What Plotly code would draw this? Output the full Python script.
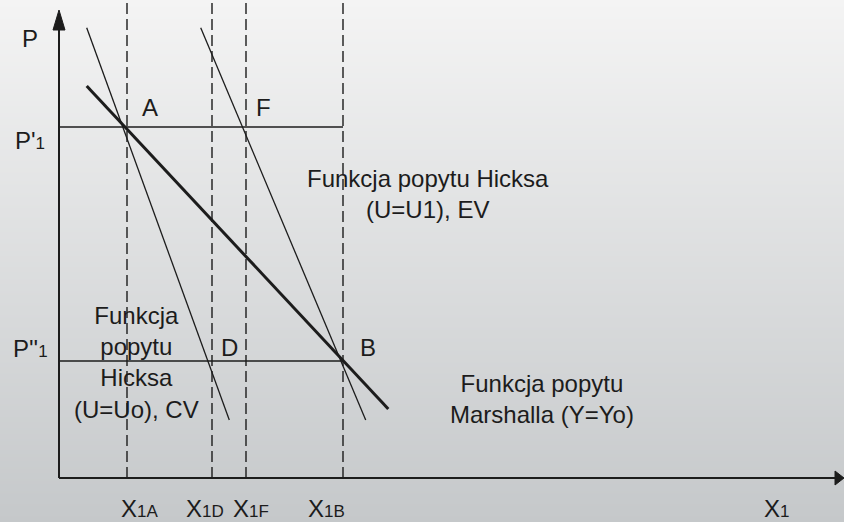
import numpy as np
import plotly.graph_objects as go

# Price levels and quantities (diagram units)
price_levels = {"P'": 35.1, "P''": 11.7}
qty_marks = [6.8, 15.3, 18.7, 28.4]          # X1A, X1D, X1F, X1B
qty_names = ["1A", "1D", "1F", "1B"]

# Demand curves: endpoints (x, p)
marshall_x = [2.77, 32.93]
marshall_p = [39.2, 6.9]
hicks_u0_x = [2.77, 17.03]
hicks_u0_p = [45.03, 5.8]
hicks_u1_x = [14.17, 30.67]
hicks_u1_p = [45.03, 5.8]

X_RANGE = [-5.9, 78.5]
Y_RANGE = [-4.4, 47.8]
INK = "#1c1c1c"
FONT = "Liberation Sans, Arial, sans-serif"
SUB = 17

fig = go.Figure()

# soft vertical gradient backdrop
gy = np.linspace(Y_RANGE[0], Y_RANGE[1], 60)
fig.add_trace(go.Heatmap(
    x=[X_RANGE[0], X_RANGE[1]], y=gy,
    z=[[v, v] for v in gy],
    colorscale=[[0, "rgb(197,200,202)"], [1, "rgb(244,244,244)"]],
    zsmooth="best", showscale=False, hoverinfo="skip"))

def line(x, y, width, dash=None):
    fig.add_trace(go.Scatter(x=x, y=y, mode="lines", hoverinfo="skip",
                             line=dict(color=INK, width=width, dash=dash),
                             showlegend=False))

# dashed quantity guides
for q in qty_marks:
    line([q, q], [0, Y_RANGE[1]], 1.4, "11px,5px")

# price lines
for p in price_levels.values():
    line([0, qty_marks[-1]], [p, p], 1.3)

# demand curves
line(hicks_u0_x, hicks_u0_p, 1.3)
line(hicks_u1_x, hicks_u1_p, 1.3)
line(marshall_x, marshall_p, 3)

# axes with arrow heads
line([0, 0], [0, 45.0], 2)
line([0, 77.8], [0, 0], 2)
fig.add_trace(go.Scatter(x=[0, -0.6, 0.6, 0], y=[46.8, 44.8, 44.8, 46.8],
                         mode="lines", fill="toself", fillcolor=INK,
                         line=dict(color=INK, width=1), hoverinfo="skip",
                         showlegend=False))
fig.add_trace(go.Scatter(x=[78.5, 77.6, 77.6, 78.5], y=[0, 0.7, -0.7, 0],
                         mode="lines", fill="toself", fillcolor=INK,
                         line=dict(color=INK, width=1), hoverinfo="skip",
                         showlegend=False))

def label(x, y, text, size=24, align="center"):
    fig.add_annotation(x=x, y=y, xref="x", yref="y", text=text,
                       showarrow=False, align=align,
                       font=dict(family=FONT, size=size, color=INK))

def sub(t):
    return f'<span style="font-size:{SUB}px">{t}</span>'

label(-2.9, 44.0, "P")
label(-2.9, 33.8, "P'" + sub("1"))
label(-2.9, 13.0, "P''" + sub("1"))
label(9.1, 37.1, "A")
label(20.4, 37.1, "F")
label(17.0, 13.1, "D")
label(30.9, 13.1, "B")

qty_label_x = [8.0, 14.6, 19.2, 26.7]
for lx, nm in zip(qty_label_x, qty_names):
    label(lx, -3.0, "X" + sub(nm))
label(71.7, -3.0, "X" + sub("1"))

label(36.85, 28.4, "Funkcja popytu Hicksa<br>(U=U1), EV")
label(7.7, 11.6, "Funkcja<br>popytu<br>Hicksa<br>(U=Uo), CV")
label(48.25, 7.9, "Funkcja popytu<br>Marshalla (Y=Yo)")

fig.update_layout(
    width=844, height=522, margin=dict(l=0, r=0, t=0, b=0),
    paper_bgcolor="rgb(232,233,234)", plot_bgcolor="rgba(0,0,0,0)",
    showlegend=False,
    xaxis=dict(range=X_RANGE, visible=False, fixedrange=True),
    yaxis=dict(range=Y_RANGE, visible=False, fixedrange=True),
)

fig.write_html("out.html", config={"displayModeBar": False})
